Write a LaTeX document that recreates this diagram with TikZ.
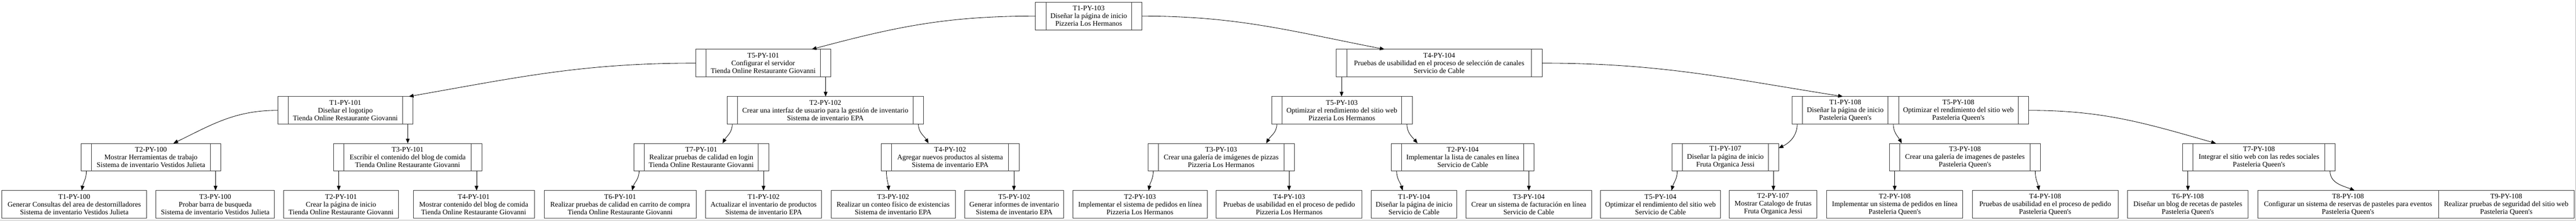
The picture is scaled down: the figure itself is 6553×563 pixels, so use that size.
\documentclass[tikz,border=0pt]{standalone}
\usepackage{fontspec}
\setmainfont{Liberation Serif}
\usetikzlibrary{positioning,arrows.meta}

\begin{document}
\begin{tikzpicture}[x=1pt,y=1pt,
  task/.style={draw=black!80,line width=1.1pt,outer sep=0pt,minimum height=70.7pt,inner xsep=11.5pt,inner ysep=2pt,align=center,font=\fontsize{18.2}{19.75}\selectfont},
  port/.style={draw=black!80,line width=1.1pt,outer sep=0pt,minimum height=70.7pt,minimum width=26.5pt,inner sep=0pt},
  link/.style={line width=1.1pt,-{Triangle[length=12pt,width=9.5pt]}}]
\useasboundingbox (0,0) rectangle (6553,-563);
\draw[gray!55,line width=1.5pt] (0,-562) -- (6552,-562) -- (6552,0);

\node[task,minimum width=217pt] (t1py103) at (2769.5,-41) {T1-PY-103\\Diseñar la página de inicio\\Pizzeria Los Hermanos};
\node[port,left=0pt of t1py103] (t1py103l) {};
\node[port,right=0pt of t1py103] (t1py103r) {};

\node[task,minimum width=291pt] (t5py101) at (1941.5,-161) {T5-PY-101\\Configurar el servidor\\Tienda Online Restaurante Giovanni};
\node[port,left=0pt of t5py101] (t5py101l) {};
\node[port,right=0pt of t5py101] (t5py101r) {};
\node[task,minimum width=470pt] (t4py104) at (3661,-161) {T4-PY-104\\Pruebas de usabilidad en el proceso de selección de canales\\Servicio de Cable};
\node[port,left=0pt of t4py104] (t4py104l) {};
\node[port,right=0pt of t4py104] (t4py104r) {};

\node[task,minimum width=291pt] (t1py101) at (878.5,-281.4) {T1-PY-101\\Diseñar el logotipo\\Tienda Online Restaurante Giovanni};
\node[port,left=0pt of t1py101] (t1py101l) {};
\node[port,right=0pt of t1py101] (t1py101r) {};
\node[task,minimum width=447pt] (t2py102) at (2099.5,-281.4) {T2-PY-102\\Crear una interfaz de usuario para la gestión de inventario\\Sistema de inventario EPA};
\node[port,left=0pt of t2py102] (t2py102l) {};
\node[port,right=0pt of t2py102] (t2py102r) {};
\node[task,minimum width=303pt] (t5py103) at (3413.5,-281.4) {T5-PY-103\\Optimizar el rendimiento del sitio web\\Pizzeria Los Hermanos};
\node[port,left=0pt of t5py103] (t5py103l) {};
\node[port,right=0pt of t5py103] (t5py103r) {};
\node[task,minimum width=216pt] (t1py108) at (4694,-281.4) {T1-PY-108\\Diseñar la página de inicio\\Pasteleria Queen\textquotesingle s};
\node[port,left=0pt of t1py108] (t1py108l) {};
\node[port,right=0pt of t1py108] (t1py108m) {};
\node[task,minimum width=303pt,right=0pt of t1py108m] (t5py108) {T5-PY-108\\Optimizar el rendimiento del sitio web\\Pasteleria Queen\textquotesingle s};
\node[port,right=0pt of t5py108] (t5py108r) {};

\node[task,minimum width=302pt] (t2py100) at (384,-400.9) {T2-PY-100\\Mostrar Herramientas de trabajo\\Sistema de inventario Vestidos Julieta};
\node[port,left=0pt of t2py100] (t2py100l) {};
\node[port,right=0pt of t2py100] (t2py100r) {};
\node[task,minimum width=324pt] (t3py101) at (1037,-400.9) {T3-PY-101\\Escribir el contenido del blog de comida\\Tienda Online Restaurante Giovanni};
\node[port,left=0pt of t3py101] (t3py101l) {};
\node[port,right=0pt of t3py101] (t3py101r) {};
\node[task,minimum width=290pt] (t7py101) at (1784,-400.9) {T7-PY-101\\Realizar pruebas de calidad en login\\Tienda Online Restaurante Giovanni};
\node[port,left=0pt of t7py101] (t7py101l) {};
\node[port,right=0pt of t7py101] (t7py101r) {};
\node[task,minimum width=298pt] (t4py102) at (2417,-400.9) {T4-PY-102\\Agregar nuevos productos al sistema\\Sistema de inventario EPA};
\node[port,left=0pt of t4py102] (t4py102l) {};
\node[port,right=0pt of t4py102] (t4py102r) {};
\node[task,minimum width=319pt] (t3py103) at (3106.5,-400.9) {T3-PY-103\\Crear una galería de imágenes de pizzas\\Pizzeria Los Hermanos};
\node[port,left=0pt of t3py103] (t3py103l) {};
\node[port,right=0pt of t3py103] (t3py103r) {};
\node[task,minimum width=310pt] (t2py104) at (3721,-400.9) {T2-PY-104\\Implementar la lista de canales en línea\\Servicio de Cable};
\node[port,left=0pt of t2py104] (t2py104l) {};
\node[port,right=0pt of t2py104] (t2py104r) {};
\node[task,minimum width=216pt] (t1py107) at (4389,-400.9) {T1-PY-107\\Diseñar la página de inicio\\Fruta Organica Jessi};
\node[port,left=0pt of t1py107] (t1py107l) {};
\node[port,right=0pt of t1py107] (t1py107r) {};
\node[task,minimum width=331pt] (t3py108) at (4998.5,-400.9) {T3-PY-108\\Crear una galería de imagenes de pasteles\\Pasteleria Queen\textquotesingle s};
\node[port,left=0pt of t3py108] (t3py108l) {};
\node[port,right=0pt of t3py108] (t3py108r) {};
\node[task,minimum width=335pt] (t7py108) at (5746.5,-400.9) {T7-PY-108\\Integrar el sitio web con las redes sociales\\Pasteleria Queen\textquotesingle s};
\node[port,left=0pt of t7py108] (t7py108l) {};
\node[port,right=0pt of t7py108] (t7py108r) {};

\node[task,minimum width=368pt] (t1py100) at (189,-521.2) {T1-PY-100\\Generar Consultas del area de destornilladores\\Sistema de inventario Vestidos Julieta};
\node[task,minimum width=301pt] (t3py100) at (547.5,-521.2) {T3-PY-100\\Probar barra de busqueda\\Sistema de inventario Vestidos Julieta};
\node[task,minimum width=291pt] (t2py101) at (867.5,-521.2) {T2-PY-101\\Crear la página de inicio\\Tienda Online Restaurante Giovanni};
\node[task,minimum width=308pt] (t4py101) at (1205,-521.2) {T4-PY-101\\Mostrar contenido del blog de comida\\Tienda Online Restaurante Giovanni};
\node[task,minimum width=387pt] (t6py101) at (1577.5,-521.2) {T6-PY-101\\Realizar pruebas de calidad en carrito de compra\\Tienda Online Restaurante Giovanni};
\node[task,minimum width=295pt] (t1py102) at (1942.5,-521.2) {T1-PY-102\\Actualizar el inventario de productos\\Sistema de inventario EPA};
\node[task,minimum width=316pt] (t3py102) at (2272,-521.2) {T3-PY-102\\Realizar un conteo físico de existencias\\Sistema de inventario EPA};
\node[task,minimum width=250pt] (t5py102) at (2580,-521.2) {T5-PY-102\\Generar informes de inventario\\Sistema de inventario EPA};
\node[task,minimum width=342pt] (t2py103) at (2900,-521.2) {T2-PY-103\\Implementar el sistema de pedidos en línea\\Pizzeria Los Hermanos};
\node[task,minimum width=371pt] (t4py103) at (3279.5,-521.2) {T4-PY-103\\Pruebas de usabilidad en el proceso de pedido\\Pizzeria Los Hermanos};
\node[task,minimum width=216pt] (t1py104) at (3597,-521.2) {T1-PY-104\\Diseñar la página de inicio\\Servicio de Cable};
\node[task,minimum width=320pt] (t3py104) at (3889,-521.2) {T3-PY-104\\Crear un sistema de facturación en línea\\Servicio de Cable};
\node[task,minimum width=302pt] (t5py104) at (4224,-521.2) {T5-PY-104\\Optimizar el rendimiento del sitio web\\Servicio de Cable};
\node[task,minimum width=223pt] (t2py107) at (4510.5,-521.2) {T2-PY-107\\Mostrar Catalogo de frutas\\Fruta Organica Jessi};
\node[task,minimum width=346pt] (t2py108) at (4820,-521.2) {T2-PY-108\\Implementar un sistema de pedidos en línea\\Pasteleria Queen\textquotesingle s};
\node[task,minimum width=371pt] (t4py108) at (5202.5,-521.2) {T4-PY-108\\Pruebas de usabilidad en el proceso de pedido\\Pasteleria Queen\textquotesingle s};
\node[task,minimum width=307pt] (t6py108) at (5565.5,-521.2) {T6-PY-108\\Diseñar un blog de recetas de pasteles\\Pasteleria Queen\textquotesingle s};
\node[task,minimum width=460pt] (t8py108) at (5973,-521.2) {T8-PY-108\\Configurar un sistema de reservas de pasteles para eventos\\Pasteleria Queen\textquotesingle s};
\node[task,minimum width=345pt,right=0pt of t8py108] (t9py108) {T9-PY-108\\Realizar pruebas de seguridad del sitio web\\Pasteleria Queen\textquotesingle s};

\draw[link] (t1py103l.west) to[out=180,in=15] ([xshift=123.5pt]t5py101.north);
\draw[link] (t1py103r.east) to[out=0,in=169] ([xshift=-139pt]t4py104.north);
\draw[link] (t5py101l.west) to[out=180,in=10] ([xshift=161.5pt]t1py101.north);
\draw[link] (t5py101r.south) -- (t5py101r.south |- t2py102.north);
\draw[link] (t4py104l.south) -- (t4py104l.south |- t5py103.north);
\draw[link] (t4py104r.east) to[out=0,in=171] ([xshift=-6pt]t1py108.north);
\draw[link] (t1py101l.west) to[out=180,in=26] ([xshift=57pt]t2py100.north);
\draw[link] (t1py101r.south) -- (t1py101r.south |- t3py101.north);
\draw[link] (t2py102l.south) to[out=-90,in=60] ([xshift=54pt]t7py101.north);
\draw[link] (t2py102r.south) to[out=-90,in=120] ([xshift=-55pt]t4py102.north);
\draw[link] (t5py103l.south) to[out=-90,in=60] ([xshift=114.5pt]t3py103.north);
\draw[link] (t5py103r.south) to[out=-90,in=130] ([xshift=-115pt]t2py104.north);
\draw[link] (t1py108l.south) to[out=-90,in=25] ([yshift=-12pt]t1py107r.north east);
\draw[link] (t1py108m.south) to[out=-90,in=120] ([xshift=-160.5pt]t3py108.north);
\draw[link] (t5py108r.east) to[out=0,in=164] ([xshift=-109.5pt]t7py108.north);
\draw[link] (t2py100l.south) to[out=-90,in=80] ([xshift=19pt]t1py100.north);
\draw[link] (t2py100r.south) -- (t2py100r.south |- t3py100.north);
\draw[link] (t3py101l.south) -- (t3py101l.south |- t2py101.north);
\draw[link] (t3py101r.south) -- (t3py101r.south |- t4py101.north);
\draw[link] (t7py101l.south) to[out=-90,in=75] ([xshift=30.5pt]t6py101.north);
\draw[link] (t7py101r.south) -- (t7py101r.south |- t1py102.north);
\draw[link] (t4py102l.south) to[out=-90,in=95] ([xshift=-11pt]t3py102.north);
\draw[link] (t4py102r.south) -- (t4py102r.south |- t5py102.north);
\draw[link] (t3py103l.south) to[out=-90,in=80] ([xshift=22pt]t2py103.north);
\draw[link] (t3py103r.south) -- (t3py103r.south |- t4py103.north);
\draw[link] (t2py104l.south) to[out=-90,in=105] ([xshift=-29pt]t1py104.north);
\draw[link] (t2py104r.south) -- (t2py104r.south |- t3py104.north);
\draw[link] (t1py107l.south) to[out=-90,in=75] ([xshift=28pt]t5py104.north);
\draw[link] (t1py107r.south) -- (t1py107r.south |- t2py107.north);
\draw[link] (t3py108l.south) -- (t3py108l.south |- t2py108.north);
\draw[link] (t3py108r.south) to[out=-90,in=100] ([xshift=-15.5pt]t4py108.north);
\draw[link] (t7py108l.south) -- (t7py108l.south |- t6py108.north);
\draw[link] (t7py108r.south) to[out=-90,in=158] ([xshift=17pt]t8py108.north);
\end{tikzpicture}
\end{document}
